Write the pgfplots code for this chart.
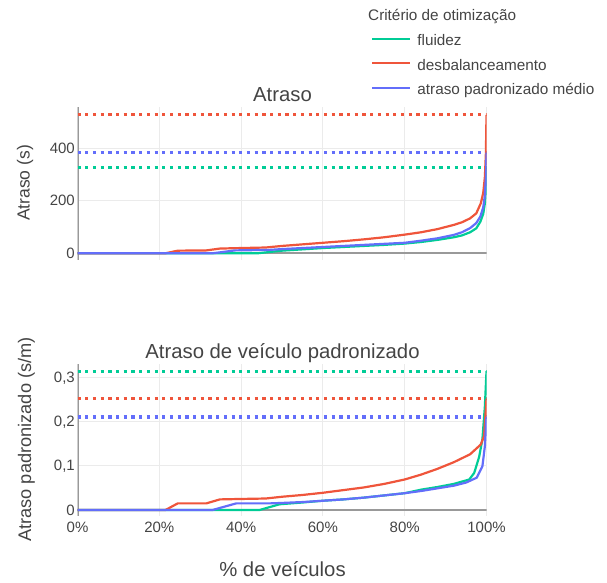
\documentclass[border=0pt]{standalone}
\usepackage{fontspec}
\setmainfont{Liberation Sans}
\usepackage{pgfplots}
\pgfplotsset{compat=1.18}
\definecolor{cgreen}{HTML}{00CC96}
\definecolor{cred}{HTML}{EF553B}
\definecolor{cblue}{HTML}{636EFA}
\definecolor{txt}{HTML}{444444}
\definecolor{gridc}{HTML}{EBEBEB}
\definecolor{axc}{HTML}{999999}
\pgfplotsset{
  base/.style={
    scale only axis, width=409pt, height=152.5pt,
    xmin=0, xmax=100,
    axis line style={draw=none},
    major tick length=0pt,
    grid=major, major grid style={gridc, line width=1pt},
    xtick={0,20,40,60,80,100},
    tick label style={font=\fontsize{15}{15}\selectfont, text=txt, inner sep=0pt, text depth=0pt},
    yticklabel style={xshift=-2.5pt},
    xticklabel style={yshift=-5.5pt},
    /pgf/number format/assume math mode=true,
    /pgf/number format/use comma,
    legend image code/.code={\draw[##1] (0pt,3.2pt) -- (38pt,3.2pt);},
  },
  curve/.style={line width=2.2pt, line join=round},
  hl/.style={line width=3.2pt, dash pattern=on 3.2pt off 4.5pt},
}
\begin{document}
\begin{tikzpicture}
\useasboundingbox (0,0) rectangle (607pt,582pt);
% ---------- top axis ----------
\begin{axis}[base, at={(77.5pt,322pt)}, anchor=south west,
  ymin=-25.5, ymax=554.7, ytick={0,200,400}, xticklabels={},
  legend style={at={(0.7176,1.479)}, anchor=north west, draw=none, fill=none,
    inner sep=0pt, font=\fontsize{15.3}{15.3}\selectfont, text=txt,
    nodes={inner sep=0pt, text height=11pt, text depth=3.5pt},
    row sep=10pt, /tikz/every odd column/.append style={column sep=6pt}},
  legend cell align=left]
\draw[axc, line width=2.2pt] (axis description cs:0,0) -- (axis description cs:0,1);
\addplot[axc, line width=2.2pt, forget plot] coordinates {(0,0) (100,0)};
\addplot[hl, cred, forget plot] coordinates {(0,527) (100,527)};
\addplot[hl, cblue, forget plot] coordinates {(0,383) (100,383)};
\addplot[hl, cgreen, forget plot] coordinates {(0,326) (100,326)};
\addplot[curve, cgreen] coordinates {(0,0) (44,0) (47,5) (50,10) (55,15) (60,20) (65,24) (70,28) (75,32) (80,37) (84,43) (88,51) (92,61) (94,68) (96,80) (97.5,95) (98.5,120) (99.2,150) (99.6,190) (99.85,250) (100,326)};
\addlegendentry{fluidez}
\addplot[curve, cred] coordinates {(0,0) (21.5,0) (24.5,10) (31.5,11) (34.8,18) (40,20) (46,22) (50,28) (55,34) (60,40) (65,46) (70,53) (75,61) (80,71) (84,80) (88,92) (92,108) (94,118) (96,133) (97.5,152) (98.6,190) (99.2,230) (99.6,290) (99.85,380) (100,527)};
\addlegendentry{desbalanceamento}
\addplot[curve, cblue] coordinates {(0,0) (33,0) (36,6) (38.5,11) (47,13) (50,16) (55,20) (60,24) (65,28) (70,32) (75,36) (80,40) (84,48) (88,57) (92,70) (94,80) (96,96) (97.5,115) (98.5,140) (99.2,175) (99.6,220) (99.85,290) (100,383)};
\addlegendentry{atraso padronizado médio}
\end{axis}
% ---------- bottom axis ----------
\begin{axis}[base, at={(77.5pt,66pt)}, anchor=south west,
  ymin=-0.0135, ymax=0.331, ytick={0,0.1,0.2,0.3},
  xticklabel={\pgfmathprintnumber{\tick}\%}]
\draw[axc, line width=2.2pt] (axis description cs:0,0) -- (axis description cs:0,1);
\addplot[axc, line width=2.2pt] coordinates {(0,0) (100,0)};
\addplot[hl, cgreen] coordinates {(0,0.3137) (100,0.3137)};
\addplot[hl, cred] coordinates {(0,0.2516) (100,0.2516)};
\addplot[hl, cblue] coordinates {(0,0.2102) (100,0.2102)};
\addplot[curve, cgreen] coordinates {(0,0) (44.5,0) (49.4,0.013) (55,0.017) (60,0.021) (65,0.024) (70,0.028) (75,0.033) (80,0.038) (84,0.046) (88,0.052) (92,0.059) (95.8,0.069) (97,0.084) (98.2,0.12) (99,0.16) (99.6,0.234) (100,0.3137)};
\addplot[curve, cred] coordinates {(0,0) (21.5,0) (24.5,0.015) (31.5,0.015) (34.8,0.024) (40,0.025) (46,0.026) (50,0.030) (55,0.034) (60,0.039) (65,0.045) (70,0.051) (75,0.059) (80,0.069) (84,0.080) (88,0.093) (92,0.108) (96,0.126) (98.6,0.148) (99.4,0.167) (100,0.2516)};
\addplot[curve, cblue] coordinates {(0,0) (33,0) (38.8,0.015) (47,0.015) (50,0.016) (55,0.018) (60,0.021) (65,0.024) (70,0.028) (75,0.033) (80,0.038) (84,0.043) (88,0.049) (92,0.055) (95,0.062) (97.6,0.073) (99,0.099) (99.6,0.144) (99.9,0.197) (100,0.2102)};
\end{axis}
% ---------- texts ----------
\node[anchor=base, text=txt, font=\fontsize{20.3}{20.3}\selectfont, inner sep=0pt] at (282.5pt,480.3pt) {Atraso};
\node[anchor=base, text=txt, font=\fontsize{20.3}{20.3}\selectfont, inner sep=0pt] at (282.5pt,223.7pt) {Atraso de veículo padronizado};
\node[anchor=base, text=txt, font=\fontsize{20.3}{20.3}\selectfont, inner sep=0pt] at (282.5pt,6pt) {\% de veículos};
\node[anchor=base, rotate=90, text=txt, font=\fontsize{17.5}{17.5}\selectfont, inner sep=0pt] at (29.5pt,399pt) {Atraso (s)};
\node[anchor=base, rotate=90, text=txt, font=\fontsize{18.2}{18.2}\selectfont, inner sep=0pt] at (31pt,142.5pt) {Atraso padronizado (s/m)};
\node[anchor=base west, text=txt, font=\fontsize{15.3}{15.3}\selectfont, inner sep=0pt] at (368pt,561pt) {Critério de otimização};
\end{tikzpicture}
\end{document}
